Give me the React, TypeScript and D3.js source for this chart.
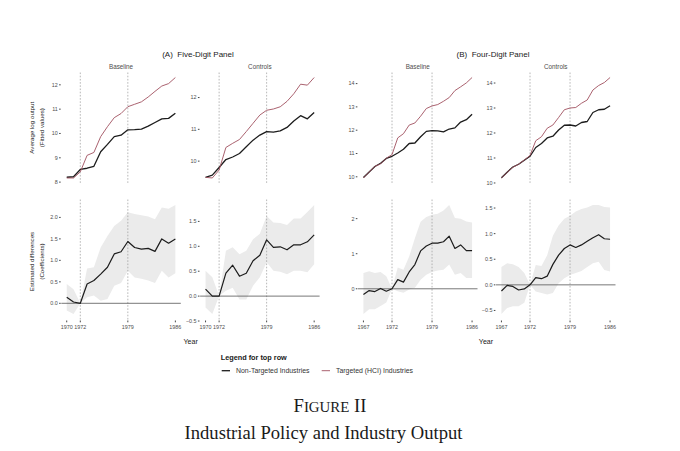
import * as d3 from "d3";

// Years (categories)
const YEARS_A = [1970, 1971, 1972, 1973, 1974, 1975, 1976, 1977, 1978, 1979, 1980, 1981, 1982, 1983, 1984, 1985, 1986];
const YEARS_B = [1967, 1968, 1969, 1970, 1971, 1972, 1973, 1974, 1975, 1976, 1977, 1978, 1979, 1980, 1981, 1982, 1983, 1984, 1985, 1986];
const REFORM_YEARS = [1972, 1979];
const X_TICKS_A = [1970, 1972, 1979, 1986];
const X_TICKS_B = [1967, 1972, 1979, 1986];

// Top row: average log output (fitted values)
const A_BASE_NON = [8.2, 8.22, 8.52, 8.57, 8.65, 9.25, 9.55, 9.87, 9.93, 10.15, 10.16, 10.18, 10.3, 10.45, 10.6, 10.62, 10.83];
const A_BASE_TGT = [8.17, 8.17, 8.42, 9.1, 9.22, 9.87, 10.28, 10.65, 10.82, 11.1, 11.2, 11.3, 11.5, 11.73, 11.95, 12.05, 12.3];
const A_CTRL_NON = [9.49, 9.56, 9.8, 10.05, 10.13, 10.24, 10.45, 10.66, 10.82, 10.93, 10.91, 10.95, 11.06, 11.26, 11.43, 11.33, 11.53];
const A_CTRL_TGT = [9.49, 9.47, 9.72, 10.43, 10.56, 10.68, 10.93, 11.19, 11.45, 11.6, 11.64, 11.71, 11.88, 12.12, 12.42, 12.39, 12.63];
const B_BASE_NON = [9.97, 10.21, 10.44, 10.58, 10.79, 10.88, 11.02, 11.18, 11.43, 11.45, 11.72, 11.95, 11.98, 11.97, 11.93, 12.05, 12.1, 12.35, 12.45, 12.68];
const B_BASE_TGT = [9.95, 10.2, 10.45, 10.55, 10.8, 10.95, 11.67, 11.85, 12.22, 12.31, 12.6, 12.93, 13.04, 13.1, 13.24, 13.4, 13.7, 13.86, 14.03, 14.26];
const B_CTRL_NON = [10.21, 10.43, 10.64, 10.75, 10.91, 11.07, 11.42, 11.58, 11.8, 11.87, 12.12, 12.31, 12.32, 12.28, 12.42, 12.46, 12.82, 12.93, 12.95, 13.09];
const B_CTRL_TGT = [10.2, 10.42, 10.63, 10.75, 10.92, 11.1, 11.69, 11.85, 12.19, 12.32, 12.62, 12.93, 13.0, 13.02, 13.19, 13.32, 13.72, 13.9, 14.02, 14.22];

// Bottom row: estimated differences (coefficients) with confidence bands
const A_BASE_COEF = [0.14, 0.03, 0, 0.45, 0.53, 0.68, 0.84, 1.15, 1.2, 1.44, 1.3, 1.26, 1.28, 1.21, 1.5, 1.4, 1.5];
const A_BASE_LO = [-0.17, -0.25, 0, 0.14, 0.18, 0.06, 0.1, 0.41, 0.47, 0.76, 0.6, 0.57, 0.53, 0.47, 0.76, 0.6, 0.7];
const A_BASE_HI = [0.45, 0.33, 0, 0.81, 0.84, 1.3, 1.57, 1.8, 1.92, 2.12, 2.08, 2.05, 2.02, 1.96, 2.23, 2.2, 2.29];
const A_CTRL_COEF = [0.14, 0.0, 0, 0.46, 0.62, 0.4, 0.46, 0.71, 0.82, 1.13, 0.98, 0.99, 0.93, 1.03, 1.03, 1.09, 1.23];
const A_CTRL_LO = [-0.23, -0.36, 0, 0.11, 0.17, -0.07, -0.07, 0.21, 0.38, 0.68, 0.51, 0.49, 0.44, 0.51, 0.51, 0.48, 0.64];
const A_CTRL_HI = [0.51, 0.38, 0, 0.91, 0.98, 0.84, 0.91, 1.14, 1.25, 1.61, 1.48, 1.47, 1.43, 1.56, 1.56, 1.69, 1.83];
const B_BASE_COEF = [-0.16, -0.05, -0.08, 0.01, -0.07, 0, 0.26, 0.19, 0.48, 0.69, 1.08, 1.22, 1.3, 1.3, 1.34, 1.5, 1.15, 1.25, 1.09, 1.09];
const B_BASE_LO = [-0.72, -0.58, -0.58, -0.49, -0.39, 0, -0.07, -0.11, -0.02, 0.03, 0.26, 0.4, 0.48, 0.52, 0.54, 0.69, 0.4, 0.45, 0.31, 0.31];
const B_BASE_HI = [0.45, 0.5, 0.45, 0.48, 0.36, 0, 0.61, 0.54, 0.92, 1.44, 1.91, 2.05, 2.11, 2.14, 2.23, 2.39, 2.02, 2.0, 1.92, 1.89];
const B_CTRL_COEF = [-0.12, -0.01, -0.03, -0.1, -0.08, 0, 0.14, 0.12, 0.17, 0.4, 0.58, 0.71, 0.78, 0.73, 0.78, 0.85, 0.92, 0.98, 0.9, 0.89];
const B_CTRL_LO = [-0.57, -0.45, -0.42, -0.42, -0.35, 0, -0.13, -0.16, -0.19, -0.16, 0.03, 0.13, 0.19, 0.23, 0.27, 0.35, 0.42, 0.45, 0.29, 0.26];
const B_CTRL_HI = [0.35, 0.42, 0.4, 0.35, 0.23, 0, 0.39, 0.37, 0.58, 0.96, 1.16, 1.29, 1.35, 1.43, 1.48, 1.51, 1.56, 1.56, 1.52, 1.51];

// Tick values
const TOP_TICKS_A_BASE = [8, 9, 10, 11, 12];
const TOP_TICKS_A_CTRL = [10, 11, 12];
const TOP_TICKS_B = [10, 11, 12, 13, 14];
const BOT_TICKS_A_BASE = [0, 0.5, 1, 1.5, 2];
const BOT_TICKS_CTRL = [-0.5, 0, 0.5, 1, 1.5];
const BOT_TICKS_B_BASE = [0, 1, 2];

const LEGEND_LABELS = ["Non-Targeted Industries", "Targeted (HCI) Industries"];

const BLACK = "#1c1c1c";
const RED = "#a0505f";
const SANS = "'Liberation Sans', Arial, sans-serif";
const SERIF = "'Liberation Serif', 'Times New Roman', serif";

const PANEL_W = 119.5;
const PANEL_LEFT = [61.3, 200.1, 358, 496];
const TOP_ROW = { top: 72.5, bottom: 183 };
const BOT_ROW = { top: 199.5, bottom: 319.5 };

interface Series {
  values: number[];
  color: string;
  width: number;
}

interface PanelProps {
  left: number;
  top: number;
  bottom: number;
  years: number[];
  series: Series[];
  band?: { lo: number[]; hi: number[] };
  ticks: number[];
  fmt: (v: number) => string;
  xTicks?: number[];
  facet?: string;
}

function Panel({ left, top, bottom, years, series, band, ticks, fmt, xTicks, facet }: PanelProps) {
  const right = left + PANEL_W;
  const span = years[years.length - 1] - years[0];
  const x = d3
    .scaleLinear()
    .domain([years[0] - 0.05 * span, years[years.length - 1] + 0.05 * span])
    .range([left, right]);

  const all = series.flatMap((s) => s.values);
  if (band) all.push(...band.lo, ...band.hi, 0);
  const [mn, mx] = d3.extent(all) as [number, number];
  const pad = (mx - mn) * 0.05;
  const y = d3.scaleLinear().domain([mn - pad, mx + pad]).range([bottom, top]);

  const line = d3
    .line<number>()
    .x((_, i) => x(years[i]))
    .y((d) => y(d));

  const area = band
    ? d3
        .area<number>()
        .x((_, i) => x(years[i]))
        .y0((_, i) => y(band.lo[i]))
        .y1((_, i) => y(band.hi[i]))(band.lo)
    : null;

  return (
    <g>
      {facet && (
        <text x={(left + right) / 2} y={top - 3.8} textAnchor="middle" fontSize={6.3} fill="#4d4d4d" fontFamily={SANS}>
          {facet}
        </text>
      )}
      {area && <path d={area} fill="#ebebeb" />}
      {REFORM_YEARS.map((yr) => (
        <line
          key={yr}
          x1={x(yr)}
          x2={x(yr)}
          y1={top}
          y2={bottom}
          stroke="#9a9a9a"
          strokeWidth={0.7}
          strokeDasharray="1.6,1.6"
        />
      ))}
      {band && <line x1={left} x2={right} y1={y(0)} y2={y(0)} stroke="#555" strokeWidth={0.8} />}
      {series.map((s, i) => (
        <path key={i} d={line(s.values) || ""} fill="none" stroke={s.color} strokeWidth={s.width} strokeLinejoin="round" />
      ))}
      {ticks.map((t) => (
        <g key={t}>
          <line x1={left - 2.2} x2={left - 0.6} y1={y(t)} y2={y(t)} stroke="#333" strokeWidth={0.9} />
          <text x={left - 3.5} y={y(t) + 1.9} textAnchor="end" fontSize={5.4} fill="#4d4d4d" fontFamily={SANS}>
            {fmt(t)}
          </text>
        </g>
      ))}
      {xTicks &&
        xTicks.map((t) => (
          <g key={t}>
            <line x1={x(t)} x2={x(t)} y1={bottom + 1} y2={bottom + 2.8} stroke="#333" strokeWidth={0.9} />
            <text x={x(t)} y={bottom + 9.5} textAnchor="middle" fontSize={5.4} fill="#4d4d4d" fontFamily={SANS}>
              {t}
            </text>
          </g>
        ))}
    </g>
  );
}

const f1 = d3.format(".1f");
const fInt = d3.format("d");

export default function App() {
  const top = (non: number[], tgt: number[]): Series[] => [
    { values: non, color: BLACK, width: 1.3 },
    { values: tgt, color: RED, width: 0.9 },
  ];
  const coef = (v: number[]): Series[] => [{ values: v, color: BLACK, width: 1.2 }];

  return (
    <div style={{ position: "absolute", left: 0, top: 0, width: 680, height: 451, background: "#fff" }}>
      <svg width={680} height={451} style={{ display: "block" }}>
        <rect width={680} height={451} fill="#fff" />

        {/* Panel titles */}
        <text x={198} y={57.2} textAnchor="middle" fontSize={8} fill="#1a1a1a" fontFamily={SANS} style={{ whiteSpace: "pre" }}>
          {"(A)  Five-Digit Panel"}
        </text>
        <text x={493} y={57.2} textAnchor="middle" fontSize={8} fill="#1a1a1a" fontFamily={SANS} style={{ whiteSpace: "pre" }}>
          {"(B)  Four-Digit Panel"}
        </text>

        {/* Y axis titles */}
        <g transform={`translate(36.5, ${(TOP_ROW.top + TOP_ROW.bottom) / 2}) rotate(-90)`}>
          <text x={0} y={-2.3} textAnchor="middle" fontSize={6.2} fill="#1a1a1a" fontFamily={SANS}>
            Average log output
          </text>
          <text x={0} y={7} textAnchor="middle" fontSize={6.2} fill="#1a1a1a" fontFamily={SANS}>
            (Fitted values)
          </text>
        </g>
        <g transform={`translate(36.5, ${(BOT_ROW.top + BOT_ROW.bottom) / 2 + 2}) rotate(-90)`}>
          <text x={0} y={-2.3} textAnchor="middle" fontSize={6.2} fill="#1a1a1a" fontFamily={SANS}>
            Estimated differences
          </text>
          <text x={0} y={7} textAnchor="middle" fontSize={6.2} fill="#1a1a1a" fontFamily={SANS}>
            (Coefficients)
          </text>
        </g>

        {/* Top row */}
        <Panel left={PANEL_LEFT[0]} {...TOP_ROW} years={YEARS_A} series={top(A_BASE_NON, A_BASE_TGT)} ticks={TOP_TICKS_A_BASE} fmt={fInt} facet="Baseline" />
        <Panel left={PANEL_LEFT[1]} {...TOP_ROW} years={YEARS_A} series={top(A_CTRL_NON, A_CTRL_TGT)} ticks={TOP_TICKS_A_CTRL} fmt={fInt} facet="Controls" />
        <Panel left={PANEL_LEFT[2]} {...TOP_ROW} years={YEARS_B} series={top(B_BASE_NON, B_BASE_TGT)} ticks={TOP_TICKS_B} fmt={fInt} facet="Baseline" />
        <Panel left={PANEL_LEFT[3]} {...TOP_ROW} years={YEARS_B} series={top(B_CTRL_NON, B_CTRL_TGT)} ticks={TOP_TICKS_B} fmt={fInt} facet="Controls" />

        {/* Bottom row */}
        <Panel left={PANEL_LEFT[0]} {...BOT_ROW} years={YEARS_A} series={coef(A_BASE_COEF)} band={{ lo: A_BASE_LO, hi: A_BASE_HI }} ticks={BOT_TICKS_A_BASE} fmt={f1} xTicks={X_TICKS_A} />
        <Panel left={PANEL_LEFT[1]} {...BOT_ROW} years={YEARS_A} series={coef(A_CTRL_COEF)} band={{ lo: A_CTRL_LO, hi: A_CTRL_HI }} ticks={BOT_TICKS_CTRL} fmt={f1} xTicks={X_TICKS_A} />
        <Panel left={PANEL_LEFT[2]} {...BOT_ROW} years={YEARS_B} series={coef(B_BASE_COEF)} band={{ lo: B_BASE_LO, hi: B_BASE_HI }} ticks={BOT_TICKS_B_BASE} fmt={fInt} xTicks={X_TICKS_B} />
        <Panel left={PANEL_LEFT[3]} {...BOT_ROW} years={YEARS_B} series={coef(B_CTRL_COEF)} band={{ lo: B_CTRL_LO, hi: B_CTRL_HI }} ticks={BOT_TICKS_CTRL} fmt={f1} xTicks={X_TICKS_B} />

        {/* X axis titles */}
        <text x={190.7} y={344.3} textAnchor="middle" fontSize={7.1} fill="#1a1a1a" fontFamily={SANS}>Year</text>
        <text x={486} y={344.3} textAnchor="middle" fontSize={7.1} fill="#1a1a1a" fontFamily={SANS}>Year</text>

        {/* Legend */}
        <text x={220.7} y={360.3} fontSize={7.3} fontWeight="bold" fill="#1a1a1a" fontFamily={SANS}>
          Legend for top row
        </text>
        <line x1={221.7} x2={230} y1={370.7} y2={370.7} stroke={BLACK} strokeWidth={1.3} />
        <text x={236} y={373.2} fontSize={6.9} fill="#333" fontFamily={SANS}>{LEGEND_LABELS[0]}</text>
        <line x1={321.7} x2={330} y1={370.7} y2={370.7} stroke={RED} strokeWidth={0.9} />
        <text x={336} y={373.2} fontSize={6.9} fill="#333" fontFamily={SANS}>{LEGEND_LABELS[1]}</text>

        {/* Caption */}
        <text x={330} y={412} textAnchor="middle" fontSize={18.6} fill="#1a1a1a" fontFamily={SERIF}>
          F<tspan fontSize={14.9}>IGURE</tspan> II
        </text>
        <text x={323.5} y={438.5} textAnchor="middle" fontSize={18.6} fill="#1a1a1a" fontFamily={SERIF}>
          Industrial Policy and Industry Output
        </text>
      </svg>
    </div>
  );
}
